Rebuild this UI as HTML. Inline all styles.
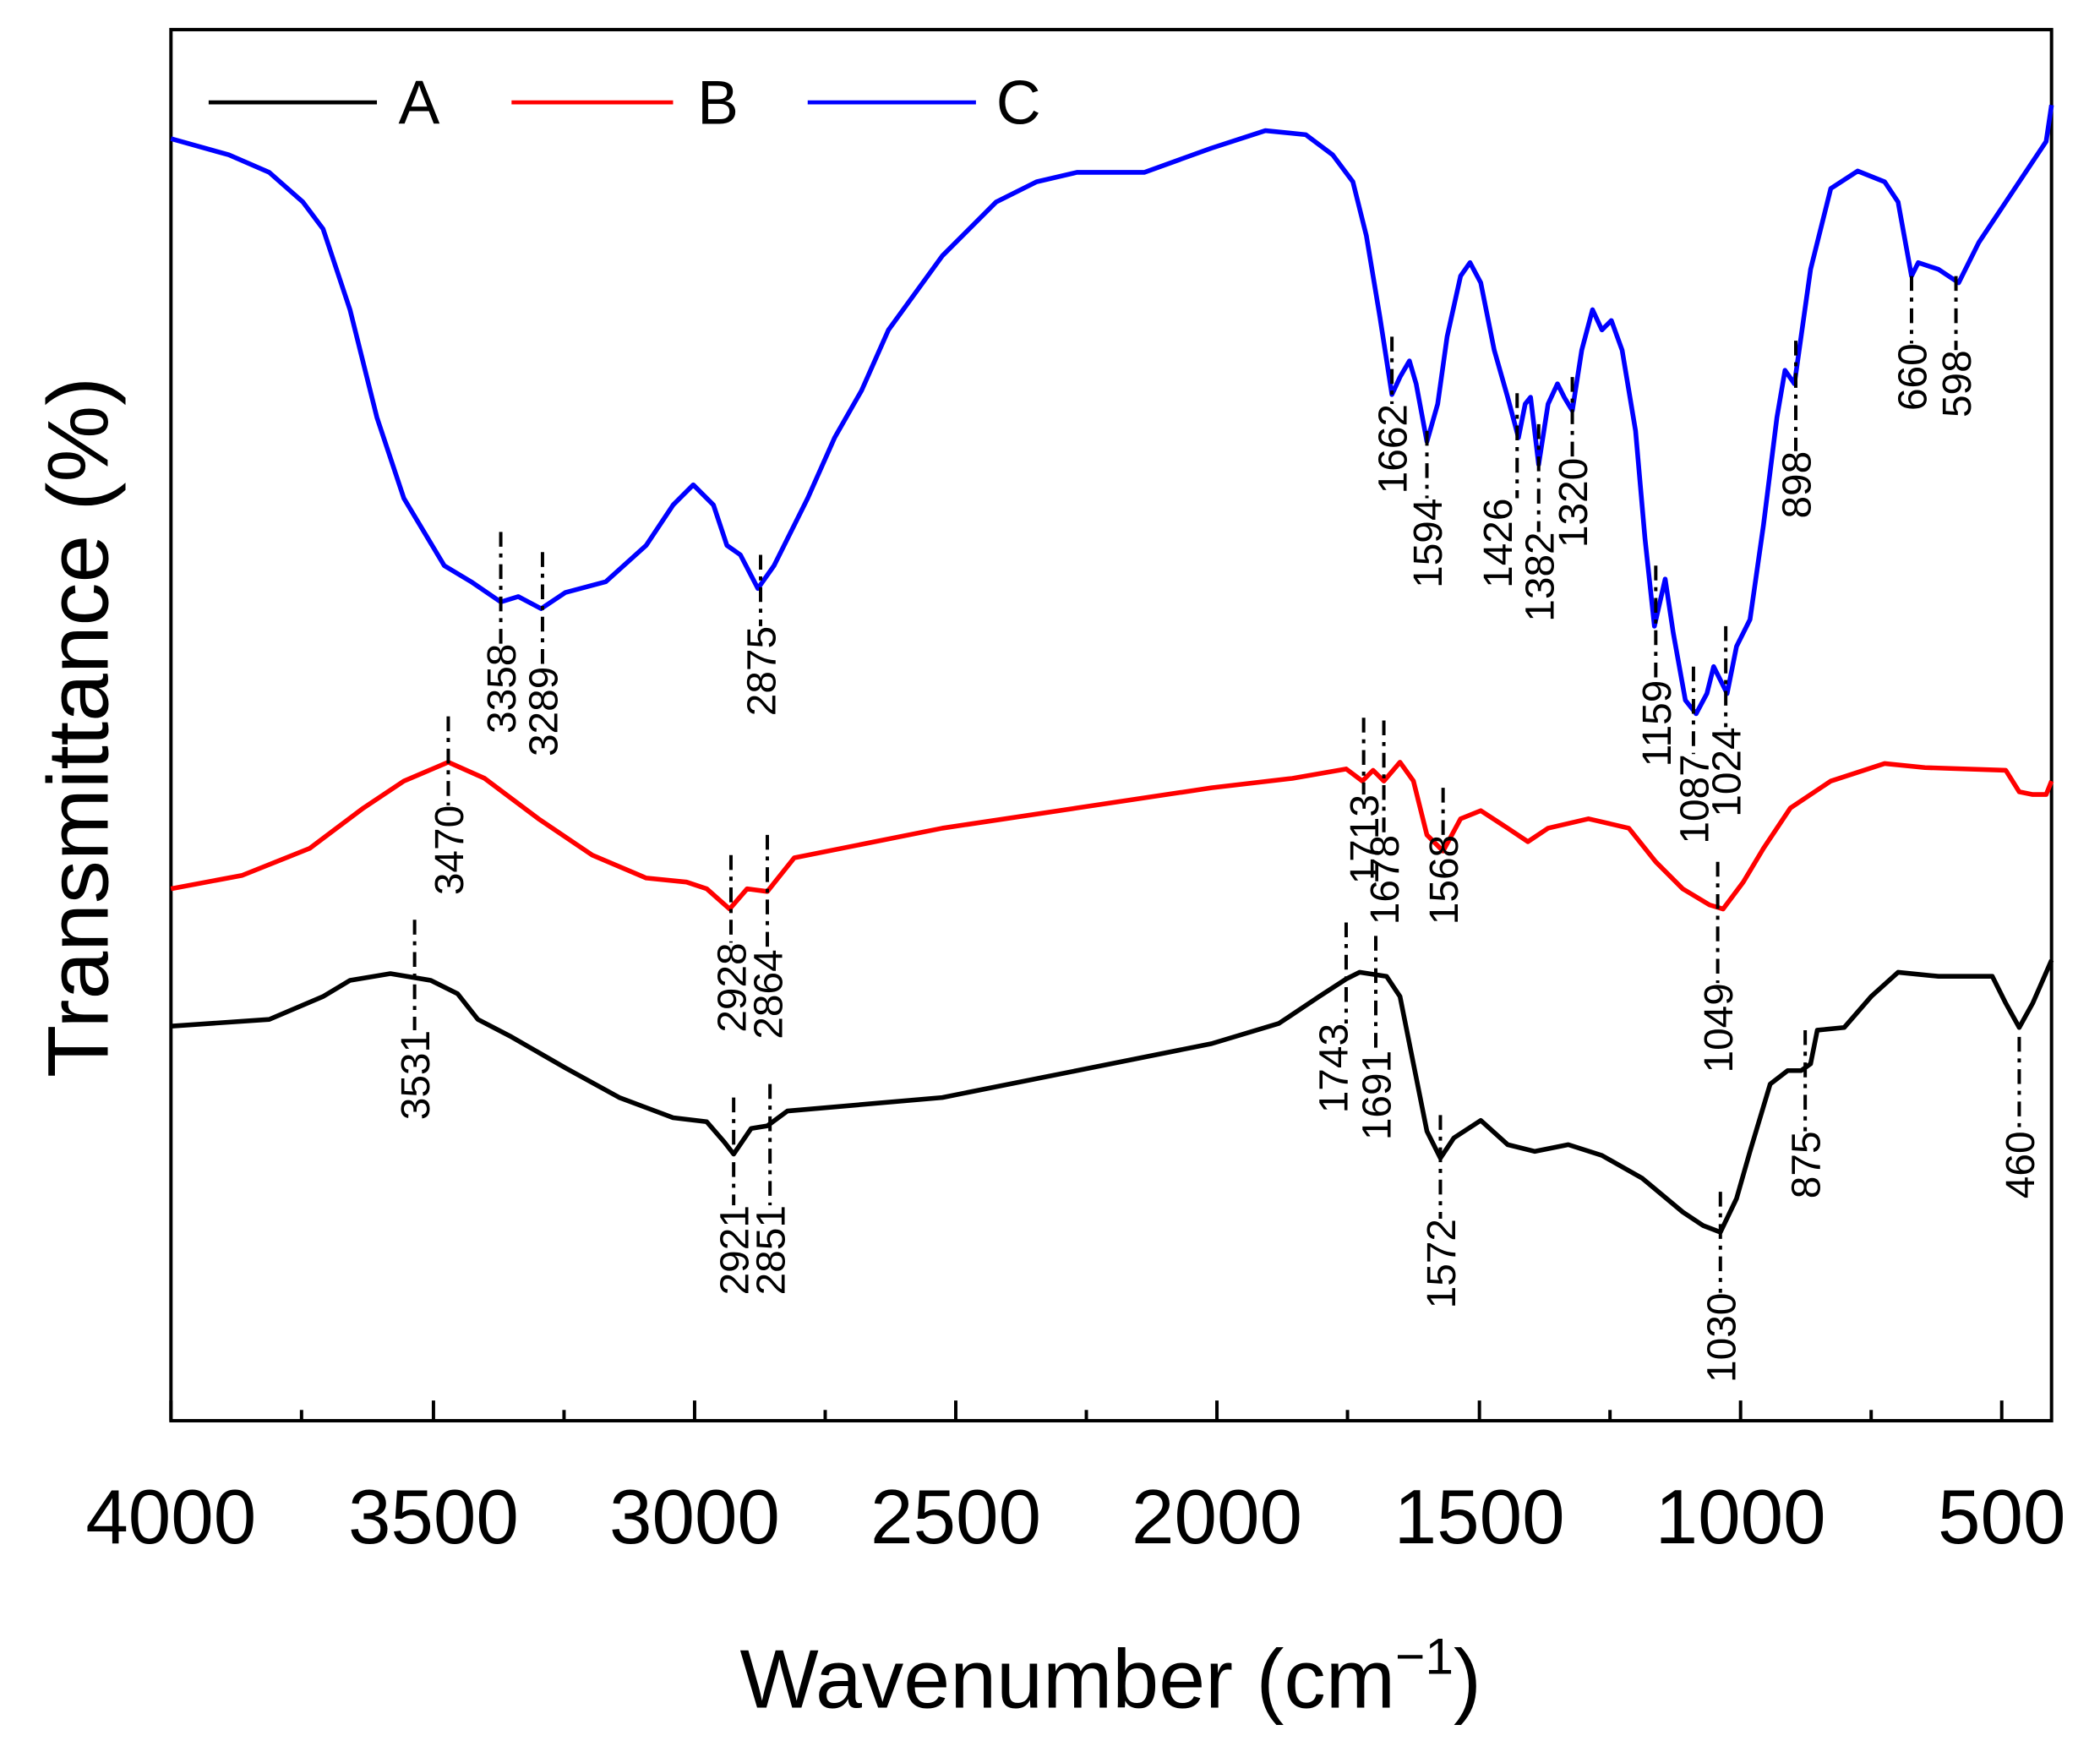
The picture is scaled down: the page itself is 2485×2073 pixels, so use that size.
<!DOCTYPE html>
<html><head><meta charset="utf-8"><style>html,body{margin:0;padding:0;background:#fff}svg{display:block}</style></head>
<body>
<svg width="2485" height="2073" viewBox="0 0 1560 1301" preserveAspectRatio="none" xmlns="http://www.w3.org/2000/svg" font-family="Liberation Sans, Arial, sans-serif">
<rect width="1560" height="1301" fill="#fff"/>
<rect x="127" y="22" width="1397" height="1033" fill="none" stroke="#000" stroke-width="2.5"/>
<g stroke="#000" stroke-width="2.5">
<line x1="127" y1="1055" x2="127" y2="1040"/><line x1="322" y1="1055" x2="322" y2="1040"/><line x1="516" y1="1055" x2="516" y2="1040"/><line x1="710" y1="1055" x2="710" y2="1040"/><line x1="904" y1="1055" x2="904" y2="1040"/><line x1="1099" y1="1055" x2="1099" y2="1040"/><line x1="1293" y1="1055" x2="1293" y2="1040"/><line x1="1487" y1="1055" x2="1487" y2="1040"/>
<line x1="224" y1="1055" x2="224" y2="1047"/><line x1="419" y1="1055" x2="419" y2="1047"/><line x1="613" y1="1055" x2="613" y2="1047"/><line x1="807" y1="1055" x2="807" y2="1047"/><line x1="1001" y1="1055" x2="1001" y2="1047"/><line x1="1196" y1="1055" x2="1196" y2="1047"/><line x1="1390" y1="1055" x2="1390" y2="1047"/>
</g>
<g font-size="57" text-anchor="middle" fill="#000">
<text x="127" y="1146">4000</text><text x="322" y="1146">3500</text><text x="516" y="1146">3000</text><text x="710" y="1146">2500</text><text x="904" y="1146">2000</text><text x="1099" y="1146">1500</text><text x="1293" y="1146">1000</text><text x="1487" y="1146">500</text>
</g>
<text x="825" y="1268" font-size="62" text-anchor="middle">Wavenumber (cm<tspan font-size="38" dy="-25">−1</tspan><tspan dy="25">)</tspan></text>
<text transform="translate(80,540) rotate(-90)" font-size="64" text-anchor="middle">Transmittance (%)</text>
<g stroke-width="3" fill="none">
<line x1="155" y1="76" x2="280" y2="76" stroke="#000"/><line x1="380" y1="76" x2="500" y2="76" stroke="#f00"/><line x1="600" y1="76" x2="725" y2="76" stroke="#00f"/>
</g>
<g font-size="46"><text x="296" y="92">A</text><text x="518" y="92">B</text><text x="740" y="92">C</text></g>
<g fill="none" stroke-width="3.5" stroke-linejoin="round">
<polyline stroke="#00f" points="127,103 170,115 200,128 225,150 240,170 260,230 280,310 300,370 330,420 350,432 372,447 385,443 402,452 420,440 450,432 480,405 500,375 515,360 530,375 540,405 550,412 563,437 575,420 600,370 620,325 640,290 660,245 700,190 740,150 770,135 800,128 850,128 900,110 940,97 970,100 990,115 1005,135 1015,175 1025,235 1034,293 1040,280 1047,268 1052,285 1060,328 1068,300 1075,250 1085,205 1092,195 1100,210 1110,260 1120,295 1128,325 1133,300 1137,295 1143,345 1150,300 1157,285 1162,295 1168,305 1175,260 1183,230 1190,245 1197,238 1205,260 1215,320 1222,400 1229,465 1237,430 1243,470 1252,520 1260,530 1268,515 1273,495 1278,505 1283,515 1290,480 1300,460 1310,390 1320,310 1326,275 1333,285 1345,200 1360,140 1380,127 1400,135 1410,150 1420,205 1425,195 1440,200 1455,210 1470,180 1490,150 1510,120 1520,105 1524,78"/>
<polyline stroke="#f00" points="127,660 180,650 230,630 270,600 300,580 333,566 360,578 400,608 440,635 480,652 510,655 525,660 542,675 555,660 570,662 590,637 700,615 800,600 900,585 960,578 1000,571 1012,580 1020,572 1028,580 1040,566 1050,580 1060,620 1072,632 1085,608 1100,602 1120,615 1135,625 1150,615 1180,608 1210,615 1230,640 1250,660 1270,672 1280,675 1295,655 1310,630 1330,600 1360,580 1400,567 1430,570 1490,572 1500,588 1510,590 1520,590 1524,580"/>
<polyline stroke="#000" points="127,762 200,757 240,740 260,728 290,723 320,728 340,738 355,757 380,770 420,793 460,815 500,830 525,833 538,848 545,857 558,838 570,836 585,825 700,815 800,795 900,775 950,760 980,740 1000,727 1010,722 1030,725 1040,740 1050,790 1060,840 1070,860 1080,845 1100,832 1120,850 1140,855 1165,850 1190,858 1220,875 1250,900 1265,910 1278,915 1290,890 1300,855 1315,805 1328,795 1338,795 1345,790 1350,765 1370,763 1390,740 1410,722 1440,725 1480,725 1490,745 1500,763 1510,745 1524,713"/>
</g>
<g stroke="#000" stroke-width="2.5" stroke-dasharray="11,5,3,5">
<line x1="372" y1="395" x2="372" y2="478"/><line x1="403" y1="410" x2="403" y2="495"/><line x1="565" y1="412" x2="565" y2="465"/>
<line x1="1034" y1="250" x2="1034" y2="300"/><line x1="1060" y1="320" x2="1060" y2="370"/><line x1="1127" y1="292" x2="1127" y2="370"/><line x1="1143" y1="315" x2="1143" y2="395"/><line x1="1168" y1="280" x2="1168" y2="340"/><line x1="1230" y1="420" x2="1230" y2="505"/><line x1="1258" y1="495" x2="1258" y2="560"/><line x1="1282" y1="465" x2="1282" y2="540"/><line x1="1334" y1="253" x2="1334" y2="335"/><line x1="1420" y1="205" x2="1420" y2="255"/><line x1="1453" y1="205" x2="1453" y2="260"/>
<line x1="333" y1="532" x2="333" y2="598"/><line x1="543" y1="635" x2="543" y2="700"/><line x1="570" y1="620" x2="570" y2="705"/><line x1="1013" y1="533" x2="1013" y2="590"/><line x1="1028" y1="535" x2="1028" y2="620"/><line x1="1072" y1="585" x2="1072" y2="620"/><line x1="1276" y1="640" x2="1276" y2="730"/>
<line x1="308" y1="683" x2="308" y2="765"/><line x1="545" y1="815" x2="545" y2="895"/><line x1="572" y1="805" x2="572" y2="895"/><line x1="1000" y1="685" x2="1000" y2="760"/><line x1="1022" y1="695" x2="1022" y2="780"/><line x1="1070" y1="828" x2="1070" y2="905"/><line x1="1278" y1="885" x2="1278" y2="960"/><line x1="1341" y1="765" x2="1341" y2="840"/><line x1="1500" y1="770" x2="1500" y2="840"/>
</g>
<g font-size="30" text-anchor="end" fill="#000">
<text transform="translate(383,478) rotate(-90)">3358</text>
<text transform="translate(414,495) rotate(-90)">3289</text>
<text transform="translate(576,465) rotate(-90)">2875</text>
<text transform="translate(1045,300) rotate(-90)">1662</text>
<text transform="translate(1071,370) rotate(-90)">1594</text>
<text transform="translate(1123,370) rotate(-90)">1426</text>
<text transform="translate(1154,395) rotate(-90)">1382</text>
<text transform="translate(1179,340) rotate(-90)">1320</text>
<text transform="translate(1241,505) rotate(-90)">1159</text>
<text transform="translate(1269,560) rotate(-90)">1087</text>
<text transform="translate(1293,540) rotate(-90)">1024</text>
<text transform="translate(1345,335) rotate(-90)">898</text>
<text transform="translate(1431,255) rotate(-90)">660</text>
<text transform="translate(1464,260) rotate(-90)">598</text>
<text transform="translate(344,598) rotate(-90)">3470</text>
<text transform="translate(554,700) rotate(-90)">2928</text>
<text transform="translate(581,705) rotate(-90)">2864</text>
<text transform="translate(1024,590) rotate(-90)">1713</text>
<text transform="translate(1039,620) rotate(-90)">1678</text>
<text transform="translate(1083,620) rotate(-90)">1568</text>
<text transform="translate(1287,730) rotate(-90)">1049</text>
<text transform="translate(319,765) rotate(-90)">3531</text>
<text transform="translate(556,895) rotate(-90)">2921</text>
<text transform="translate(583,895) rotate(-90)">2851</text>
<text transform="translate(1001,760) rotate(-90)">1743</text>
<text transform="translate(1033,780) rotate(-90)">1691</text>
<text transform="translate(1081,905) rotate(-90)">1572</text>
<text transform="translate(1289,960) rotate(-90)">1030</text>
<text transform="translate(1352,840) rotate(-90)">875</text>
<text transform="translate(1511,840) rotate(-90)">460</text>
</g>
</svg>
</body></html>
